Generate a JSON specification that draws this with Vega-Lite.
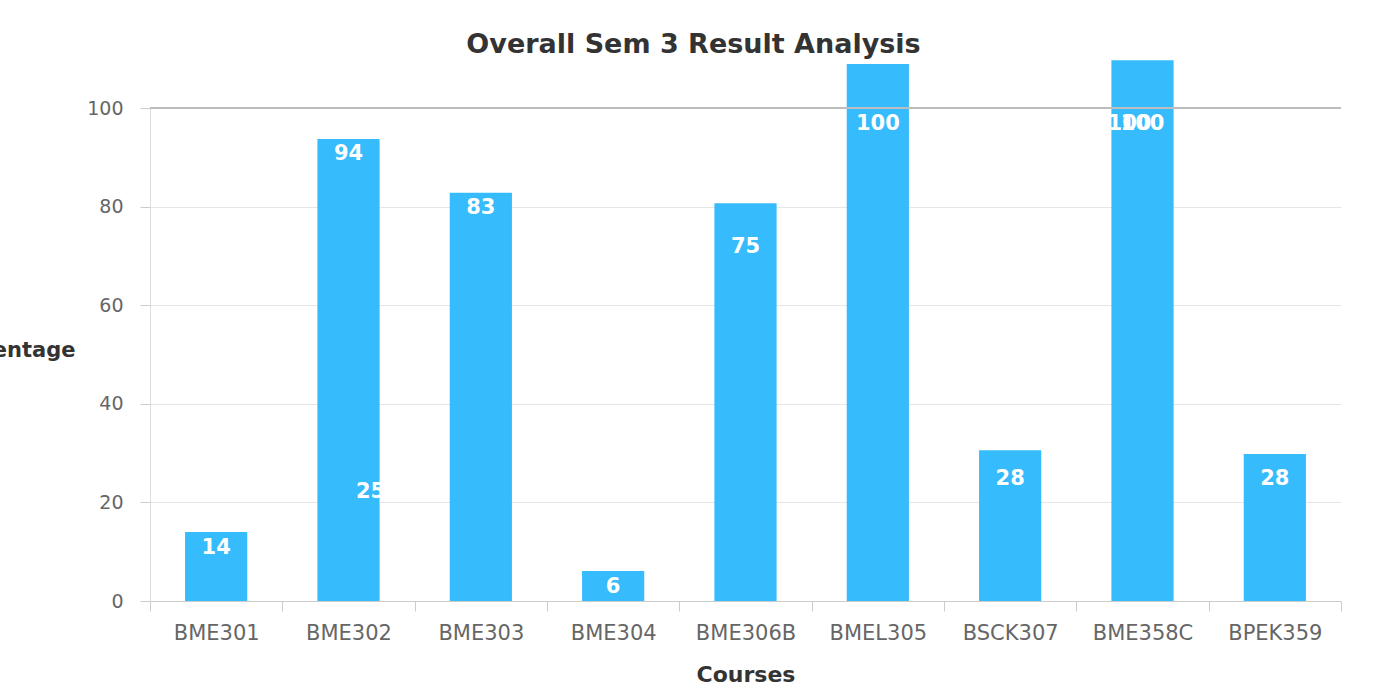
{
  "$schema": "https://vega.github.io/schema/vega-lite/v6.json",
  "width": 1191,
  "height": 493,
  "autosize": {"type": "none"},
  "padding": {"left": 150, "top": 108, "right": 46, "bottom": 99},
  "background": "white",
  "config": {"view": {"stroke": null}},
  "title": {
    "text": "Overall Sem 3 Result Analysis",
    "font": "DejaVu Sans",
    "fontSize": 27,
    "fontWeight": "bold",
    "color": "#333333",
    "anchor": "middle",
    "baseline": "alphabetic",
    "offset": -20,
    "dx": -52
  },
  "datasets": {
    "bars": [
      {"course": "BME301", "value": 14, "label": "14"},
      {"course": "BME302", "value": 93.7, "label": "94"},
      {"course": "BME303", "value": 82.8, "label": "83"},
      {"course": "BME304", "value": 6.1, "label": "6"},
      {"course": "BME306B", "value": 80.7, "label": "75"},
      {"course": "BMEL305", "value": 108.9, "label": "100"},
      {"course": "BSCK307", "value": 30.6, "label": "28"},
      {"course": "BME358C", "value": 109.7, "label": "100"},
      {"course": "BPEK359", "value": 29.8, "label": "28"}
    ],
    "extraA": [{"course": "BME302", "label": "25"}],
    "extraB": [{"course": "BME358C", "label": "100"}]
  },
  "layer": [
    {
      "data": {"name": "bars"},
      "mark": {"type": "bar", "color": "#36bbfc", "width": {"band": 0.47}},
      "encoding": {
        "x": {
          "field": "course",
          "type": "nominal",
          "sort": ["BME301", "BME302", "BME303", "BME304", "BME306B", "BMEL305", "BSCK307", "BME358C", "BPEK359"],
          "scale": {"paddingInner": 0, "paddingOuter": 0},
          "axis": {
            "title": "Courses",
            "titleFont": "DejaVu Sans",
            "titleFontSize": 22,
            "titleFontWeight": "bold",
            "titleColor": "#333333",
            "titlePadding": 21,
            "labelAngle": 0,
            "labelFont": "DejaVu Sans",
            "labelFontSize": 21,
            "labelColor": "#666666",
            "labelPadding": 11,
            "tickBand": "extent",
            "tickSize": 10,
            "tickColor": "#cccccc",
            "domainColor": "#cccccc",
            "grid": false
          }
        },
        "y": {
          "field": "value",
          "type": "quantitative",
          "scale": {"domain": [0, 100], "nice": false},
          "axis": {
            "values": [0, 20, 40, 60, 80, 100],
            "title": "Percentage",
            "titleAngle": 0,
            "titleAlign": "right",
            "titleBaseline": "middle",
            "titleX": -75,
            "titleY": 242,
            "titleFont": "DejaVu Sans",
            "titleFontSize": 21,
            "titleFontWeight": "bold",
            "titleColor": "#333333",
            "labelFont": "DejaVu Sans",
            "labelFontSize": 19,
            "labelColor": "#666666",
            "labelPadding": 17,
            "tickSize": 10,
            "tickColor": "#cccccc",
            "domainColor": "#dddddd",
            "gridColor": "#e6e6e6"
          }
        }
      }
    },
    {
      "data": {"values": [{"top": 100}]},
      "mark": {"type": "rule", "color": "#bdbdbd", "strokeWidth": 2},
      "encoding": {"y": {"field": "top", "type": "quantitative"}}
    },
    {
      "data": {"name": "bars"},
      "mark": {"type": "text", "color": "white", "font": "DejaVu Sans", "fontSize": 21, "fontWeight": "bold", "baseline": "middle", "dy": 16},
      "encoding": {
        "x": {"field": "course", "type": "nominal", "sort": ["BME301", "BME302", "BME303", "BME304", "BME306B", "BMEL305", "BSCK307", "BME358C", "BPEK359"]},
        "y": {"field": "label", "type": "quantitative"},
        "text": {"field": "label"}
      }
    },
    {
      "data": {"name": "extraA"},
      "mark": {"type": "text", "color": "white", "font": "DejaVu Sans", "fontSize": 21, "fontWeight": "bold", "baseline": "middle", "dy": 14, "dx": 22},
      "encoding": {
        "x": {"field": "course", "type": "nominal", "sort": ["BME301", "BME302", "BME303", "BME304", "BME306B", "BMEL305", "BSCK307", "BME358C", "BPEK359"]},
        "y": {"field": "label", "type": "quantitative"},
        "text": {"field": "label"}
      }
    },
    {
      "data": {"name": "extraB"},
      "mark": {"type": "text", "color": "white", "font": "DejaVu Sans", "fontSize": 21, "fontWeight": "bold", "baseline": "middle", "dy": 16, "dx": -13},
      "encoding": {
        "x": {"field": "course", "type": "nominal", "sort": ["BME301", "BME302", "BME303", "BME304", "BME306B", "BMEL305", "BSCK307", "BME358C", "BPEK359"]},
        "y": {"field": "label", "type": "quantitative"},
        "text": {"field": "label"}
      }
    }
  ]
}
